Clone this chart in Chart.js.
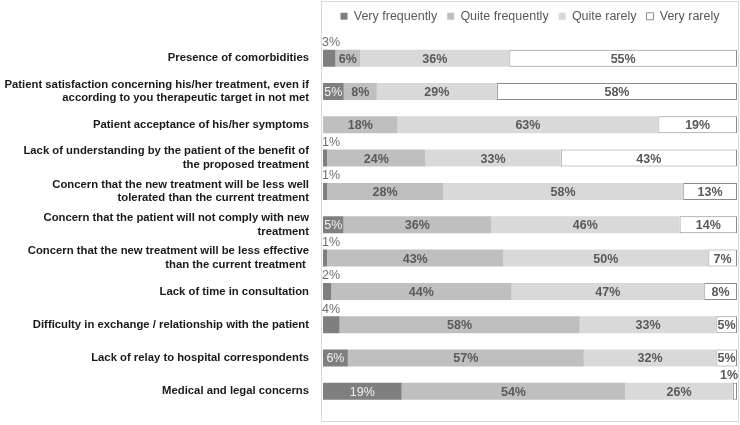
<!DOCTYPE html>
<html>
<head>
<meta charset="utf-8">
<script src="https://cdn.jsdelivr.net/npm/chart.js@4"></script>
<style>
  html, body { margin: 0; padding: 0; background: #fff; }
  #wrap { width: 740px; height: 425px; }
</style>
</head>
<body>
<div id="wrap"><canvas id="chart" width="740" height="425"></canvas></div>
<script>
const categories = [
    'Presence of comorbidities',
    ['Patient satisfaction concerning his/her treatment, even if', 'according to you therapeutic target in not met'],
    'Patient acceptance of his/her symptoms',
    ['Lack of understanding by the patient of the benefit of', 'the proposed treatment'],
    ['Concern that the new treatment will be less well', 'tolerated than the current treatment'],
    ['Concern that the patient will not comply with new', 'treatment'],
    ['Concern that the new treatment will be less effective', 'than the current treatment '],
    'Lack of time in consultation',
    'Difficulty in exchange / relationship with the patient',
    'Lack of relay to hospital correspondents',
    'Medical and legal concerns'
];

const seriesNames = ['Very frequently', 'Quite frequently', 'Quite rarely', 'Very rarely'];

const veryFrequently  = [3, 5, 0, 1, 1, 5, 1, 2, 4, 6, 19];
const quiteFrequently = [6, 8, 18, 24, 28, 36, 43, 44, 58, 57, 54];
const quiteRarely     = [36, 29, 63, 33, 58, 46, 50, 47, 33, 32, 26];
const veryRarely      = [55, 58, 19, 43, 13, 14, 7, 8, 5, 5, 1];

const seriesValues = [veryFrequently, quiteFrequently, quiteRarely, veryRarely];

// 100% stacked, like the original: each row is scaled to its own total
const rowTotals = categories.map((c, j) => seriesValues.reduce((s, arr) => s + arr[j], 0));
const asShare = arr => arr.map((v, j) => v / rowTotals[j] * 100);

const fills = ['#7f7f7f', '#bfbfbf', '#d9d9d9', '#ffffff'];
const borders = ['#7f7f7f', '#bfbfbf', '#d9d9d9', '#8c8c8c'];

const labelPlugin = {
    id: 'barLabels',
    afterDatasetsDraw(chart) {
        const c = chart.ctx;
        c.save();
        c.textBaseline = 'middle';
        seriesValues.forEach((values, i) => {
            const meta = chart.getDatasetMeta(i);
            meta.data.forEach((bar, j) => {
                const v = values[j];
                if (!v) return;
                const p = bar.getProps(['x', 'y', 'base', 'height'], true);
                const txt = v + '%';
                if (i === 0) {
                    c.font = '12.5px "Liberation Sans", Arial, sans-serif';
                    if (v >= 5) {
                        c.fillStyle = '#f2f2f2';
                        c.textAlign = 'center';
                        c.fillText(txt, (p.x + p.base) / 2, p.y + 1);
                    } else {
                        c.fillStyle = '#6f6f6f';
                        c.textAlign = 'left';
                        c.fillText(txt, p.base - 1, p.y - p.height / 2 - 7);
                    }
                } else if (i === 3 && v < 2) {
                    c.font = 'bold 12.5px "Liberation Sans", Arial, sans-serif';
                    c.fillStyle = '#595959';
                    c.textAlign = 'right';
                    c.fillText(txt, p.x + 1, p.y - p.height / 2 - 7);
                } else {
                    c.font = 'bold 12.5px "Liberation Sans", Arial, sans-serif';
                    c.fillStyle = '#595959';
                    c.textAlign = 'center';
                    c.fillText(txt, (p.x + p.base) / 2, p.y + 1);
                }
            });
        });
        c.restore();
    }
};

const framePlugin = {
    id: 'frame',
    beforeDraw(chart) {
        const c = chart.ctx;
        const a = chart.chartArea;
        c.save();
        c.strokeStyle = '#d9d9d9';
        c.lineWidth = 1;
        c.strokeRect(a.left - 1.5, 1.5, chart.width - a.left, chart.height - 5);
        c.restore();
    }
};

// a little extra room under the legend, as in the original
const legendGap = {
    id: 'legendGap',
    beforeInit(chart) {
        const fit = chart.legend.fit;
        chart.legend.fit = function () {
            fit.call(this);
            this.height += 9;
        };
    }
};

const ctx = document.getElementById('chart').getContext('2d');
new Chart(ctx, {
    type: 'bar',
    data: {
        labels: categories,
        datasets: seriesValues.map((values, i) => ({
            label: seriesNames[i],
            data: asShare(values),
            backgroundColor: fills[i],
            borderColor: borders[i],
            borderWidth: i === 3 ? 1 : 0,
            borderSkipped: false,
            categoryPercentage: 1,
            barPercentage: 0.51
        }))
    },
    options: {
        indexAxis: 'y',
        responsive: false,
        animation: false,
        layout: { padding: { top: 0, right: 3, bottom: 17, left: 0 } },
        plugins: {
            legend: {
                position: 'top',
                fullSize: false,
                align: 'center',
                labels: {
                    boxWidth: 7,
                    boxHeight: 7,
                    padding: 10,
                    color: '#595959',
                    font: { family: '"Liberation Sans", Arial, sans-serif', size: 12.5 }
                }
            },
            tooltip: { enabled: false }
        },
        scales: {
            x: {
                stacked: true,
                min: 0,
                max: 100,
                display: false
            },
            y: {
                stacked: true,
                grid: { display: false },
                border: { display: false },
                ticks: {
                    autoSkip: false,
                    color: '#1a1a1a',
                    padding: 6,
                    font: { family: '"Liberation Sans", Arial, sans-serif', size: 11.3, weight: 'bold', lineHeight: 1.22 }
                },
                afterFit(scale) { scale.width = 323; }
            }
        }
    },
    plugins: [legendGap, framePlugin, labelPlugin]
});
</script>
</body>
</html>
